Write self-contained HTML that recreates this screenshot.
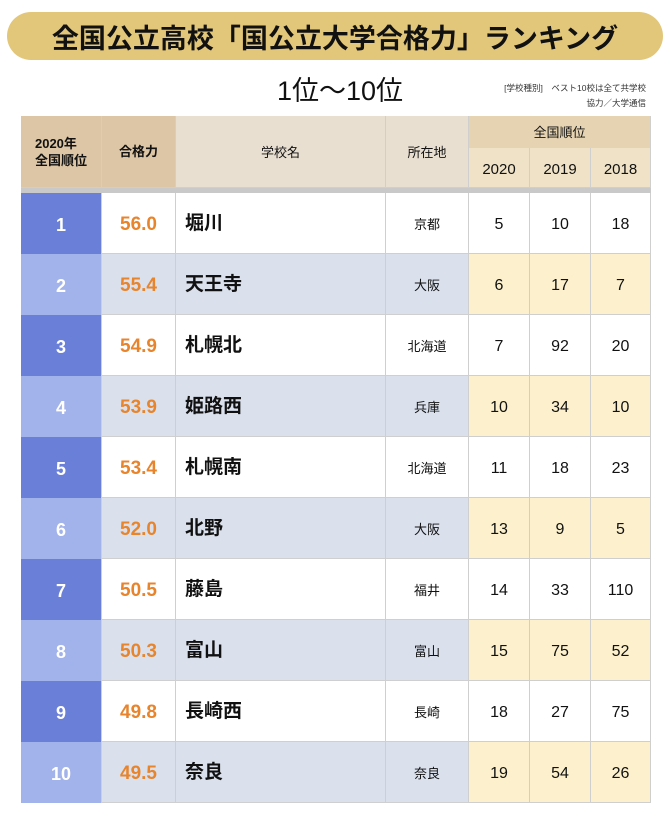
<!DOCTYPE html>
<html><head><meta charset="utf-8">
<style>
*{box-sizing:border-box;margin:0;padding:0}
body{width:670px;height:820px;background:#fff;position:relative;overflow:hidden;font-family:"Liberation Sans","Noto Sans CJK JP",sans-serif;color:#111}
.a{position:absolute;display:flex;align-items:center;justify-content:center}
#pill{left:7px;top:12px;width:656px;height:48px;border-radius:24px;background:#e2c679;font-weight:bold;font-size:27px;color:#111}
#sub{left:240px;top:70px;width:200px;height:36px;font-size:27px}
.note{position:absolute;font-size:8.5px;color:#333;right:24px}
.c{position:absolute;display:flex;align-items:center;justify-content:center;border-right:1px solid #cfcfcf;border-bottom:1px solid #cfcfcf;line-height:1}
</style></head><body>
<div id="pill" class="a">全国公立高校「国公立大学合格力」ランキング</div>
<div id="sub" class="a">1位～10位</div>
<div class="note" style="top:82px">[学校種別]　ベスト10校は全て共学校</div>
<div class="note" style="top:97px">協力／大学通信</div>
<div id="tbl"></div>
<script>
const ranks=[1,2,3,4,5,6,7,8,9,10];
const scores=["56.0","55.4","54.9","53.9","53.4","52.0","50.5","50.3","49.8","49.5"];
const schools=["堀川","天王寺","札幌北","姫路西","札幌南","北野","藤島","富山","長崎西","奈良"];
const prefs=["京都","大阪","北海道","兵庫","北海道","大阪","福井","富山","長崎","奈良"];
const r2020=[5,6,7,10,11,13,14,15,18,19];
const r2019=[10,17,92,34,18,9,33,75,27,54];
const r2018=[18,7,20,10,23,5,110,52,75,26];
const X=[21,102,176,386,469,530,591,651];
const T=116,H=193,RH=61;
const tbl=document.getElementById('tbl');
function cell(x,y,w,h,txt,st,name){
  const d=document.createElement('div');d.className='c';
  d.style.left=x+'px';d.style.top=y+'px';d.style.width=w+'px';d.style.height=h+'px';
  Object.assign(d.style,st||{});d.textContent=txt;
  
  
  tbl.appendChild(d);return d;
}
const hs={fontWeight:'bold',fontSize:'13px'};
cell(X[0],T,X[1]-X[0],H-T-5,'',{background:'#dcc6a5',flexDirection:'column',fontWeight:'bold',fontSize:'13px',lineHeight:'17px'},'header-rank').innerHTML='2020年<br>全国順位';
cell(X[1],T,X[2]-X[1],H-T-5,'合格力',Object.assign({background:'#dcc6a5'},hs),'header-score');
cell(X[2],T,X[3]-X[2],H-T-5,'学校名',{background:'#e8dfd1',fontSize:'13px',alignItems:'flex-start',paddingTop:'30px'},'header-school');
cell(X[3],T,X[4]-X[3],H-T-5,'所在地',{background:'#e8dfd1',fontSize:'13px',alignItems:'flex-start',paddingTop:'30px'},'header-pref');
cell(X[4],T,X[7]-X[4],32,'全国順位',{background:'#e5d3b1',fontSize:'13px',borderBottom:'none'},'header-national-rank');
['2020','2019','2018'].forEach((y,i)=>cell(X[4+i],T+32,X[5+i]-X[4+i],H-T-5-32,y,{background:'#efe2c7',fontSize:'15px',paddingTop:'3px'},'header-year-'+y));
const g=document.createElement('div');g.style.cssText='position:absolute;left:21px;top:188px;width:630px;height:5px;background:#c9c9c9';


tbl.appendChild(g);
ranks.forEach((r,i)=>{
  const y=H+i*RH, even=i%2==1, bg=even?'#dae1ed':'#fff', yb=even?'#fcf1cc':'#fff';
  cell(X[0],y,X[1]-X[0],RH,String(r),{background:even?'#a2b2ea':'#6a7fd7',color:'#fff',fontSize:'18px',fontWeight:'bold',borderBottom:'none',paddingTop:'3px'},'rank-'+r);
  cell(X[1],y,X[2]-X[1],RH,scores[i],{background:bg,color:'#e8842c',fontSize:'19px',fontWeight:'bold',paddingTop:'3px'},'score-'+r);
  cell(X[2],y,X[3]-X[2],RH,schools[i],{background:bg,fontSize:'19px',fontWeight:'bold',justifyContent:'flex-start',paddingLeft:'9px'},'school-'+r);
  cell(X[3],y,X[4]-X[3],RH,prefs[i],{background:bg,fontSize:'13px',paddingTop:'3px'},'pref-'+r);
  [r2020,r2019,r2018].forEach((a,j)=>cell(X[4+j],y,X[5+j]-X[4+j],RH,String(a[i]),{background:yb,fontSize:'16px',paddingTop:'4px'},'rank-'+(2020-j)+'-row-'+r));
});
</script>
</body></html>
